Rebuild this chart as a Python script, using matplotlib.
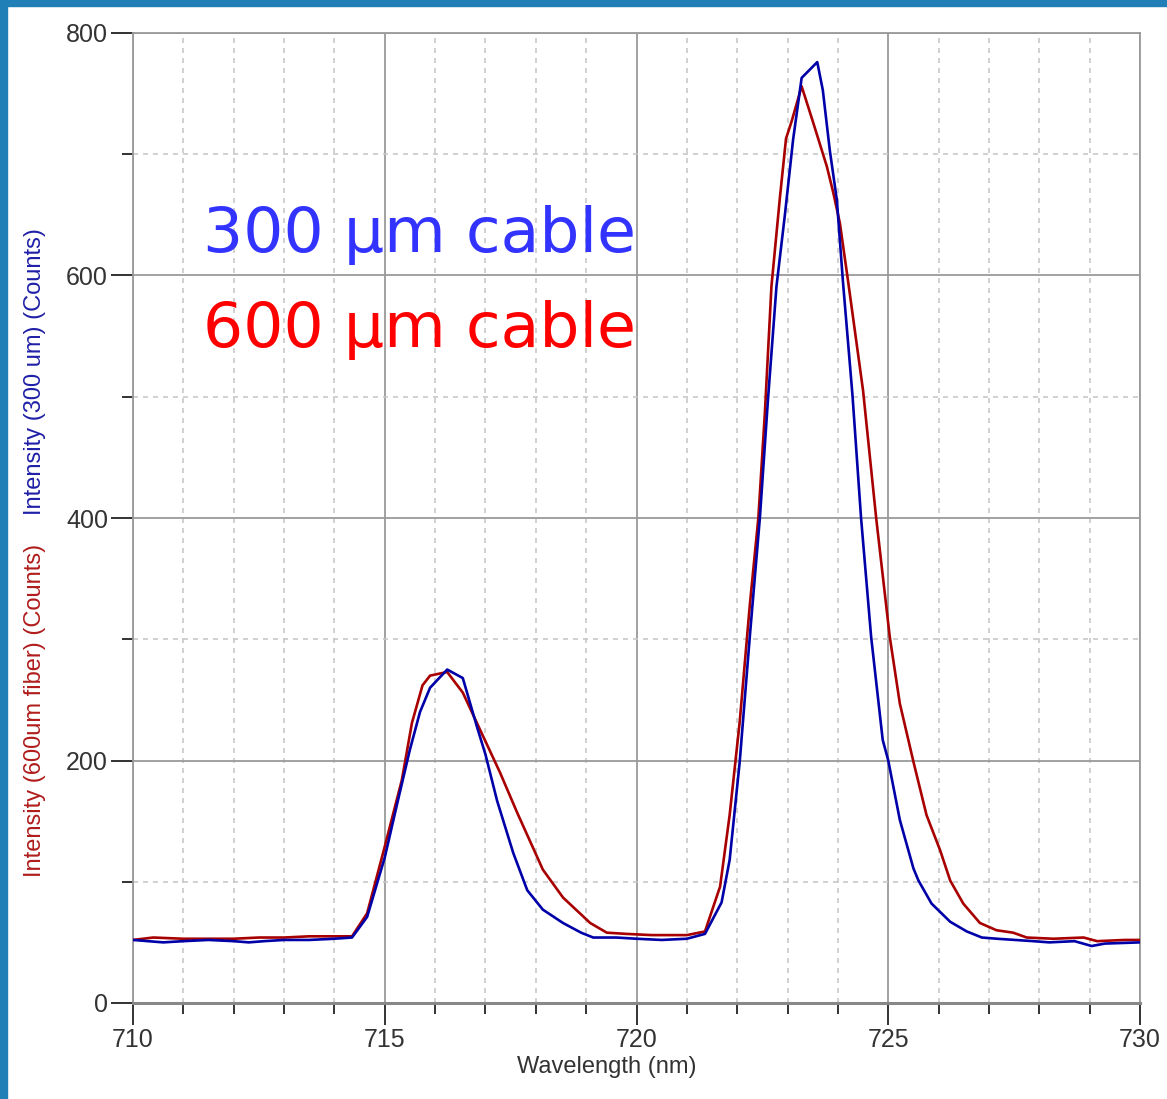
import matplotlib
matplotlib.use('Agg')
import matplotlib.pyplot as plt
from matplotlib.patches import Rectangle
from matplotlib.ticker import MultipleLocator

# spectrum: wavelength (nm) and counts
wl_300 = [710.0, 710.3, 710.6, 711.0, 711.5, 712.0, 712.3, 712.6, 713.0, 713.5,
          714.0, 714.35, 714.65, 715.0, 715.25, 715.5, 715.7, 715.9, 716.24, 716.55,
          716.83, 717.0, 717.23, 717.55, 717.83, 718.14, 718.54, 718.9, 719.14, 719.6,
          720.0, 720.5, 721.0, 721.36, 721.69, 721.85, 722.05, 722.25, 722.45, 722.61,
          722.78, 722.95, 723.11, 723.28, 723.59, 723.7, 723.84, 723.98, 724.1, 724.29,
          724.46, 724.66, 724.89, 725.0, 725.23, 725.5, 725.6, 725.86, 726.23, 726.56,
          726.86, 727.16, 727.88, 728.2, 728.7, 729.04, 729.3, 730.0]
cnt_300 = [52, 51, 50, 51, 52, 51, 50, 51, 52, 52,
           53, 54, 71, 120, 165, 209, 240, 260, 275, 268,
           228, 205, 167, 124, 93, 77, 66, 58, 54, 54,
           53, 52, 53, 57, 83, 118, 199, 302, 400, 497,
           591, 651, 712, 763, 776, 753, 703, 662, 595, 501,
           400, 302, 217, 200, 151, 111, 101, 82, 67, 59,
           54, 53, 51, 50, 51, 47, 49, 50]

wl_600 = [710.0, 710.4, 711.0, 711.5, 712.0, 712.5, 713.0, 713.5, 714.0, 714.35,
          714.65, 715.0, 715.34, 715.54, 715.75, 715.9, 716.24, 716.55, 716.83, 717.29,
          717.63, 718.14, 718.54, 719.08, 719.41, 719.8, 720.3, 721.0, 721.36, 721.66,
          721.85, 722.05, 722.25, 722.42, 722.55, 722.68, 722.85, 722.97, 723.08, 723.28,
          723.51, 723.78, 723.91, 724.04, 724.2, 724.5, 724.76, 725.03, 725.23, 725.5,
          725.76, 726.03, 726.23, 726.49, 726.82, 727.15, 727.48, 727.75, 728.28, 728.88,
          729.15, 729.7, 730.0]
cnt_600 = [52, 54, 53, 53, 53, 54, 54, 55, 55, 55,
           74, 129, 184, 231, 262, 270, 273, 256, 231, 190,
           157, 110, 87, 66, 58, 57, 56, 56, 59, 96,
           155, 232, 328, 400, 487, 591, 665, 713, 727, 756,
           726, 690, 668, 643, 596, 505, 400, 302, 247, 199,
           155, 126, 101, 82, 66, 60, 58, 54, 53, 54,
           51, 52, 52]

Line_300 = '#0000a8'
Line_600 = '#a80000'


def plotSpectra():
    fig = plt.figure(figsize=(11.67, 10.99), dpi=100)
    ax = fig.add_axes([133 / 1167, 1 - 1003 / 1099, (1140 - 133) / 1167, (1003 - 33) / 1099])

    # blue frame of the screenshot
    fig.patches.append(Rectangle((0, 1 - 6 / 1099), 1, 6 / 1099, transform=fig.transFigure,
                                 color='#1f7fb6', zorder=0))
    fig.patches.append(Rectangle((0, 0), 7 / 1167, 1, transform=fig.transFigure,
                                 color='#1f7fb6', zorder=0))

    ax.plot(wl_600, cnt_600, color=Line_600, lw=1.9, zorder=3)
    ax.plot(wl_300, cnt_300, color=Line_300, lw=1.9, zorder=4)

    ax.set_xlim(710, 730)
    ax.set_ylim(0, 800)
    ax.xaxis.set_major_locator(MultipleLocator(5))
    ax.xaxis.set_minor_locator(MultipleLocator(1))
    ax.yaxis.set_major_locator(MultipleLocator(200))
    ax.yaxis.set_minor_locator(MultipleLocator(100))

    ax.grid(which='major', color='#9a9a9a', lw=1.3, ls='-', zorder=1)
    ax.grid(which='minor', color='#c8c8c8', lw=1.2, ls=(0, (3, 3)), zorder=1)
    ax.set_axisbelow(True)

    for side in ['top', 'right', 'left']:
        ax.spines[side].set_color('#9a9a9a')
        ax.spines[side].set_linewidth(1.3)
    ax.spines['bottom'].set_color('#888888')
    ax.spines['bottom'].set_linewidth(2.2)

    ax.tick_params(which='major', direction='out', length=16, width=1.3, color='#222222',
                   labelsize=18, labelcolor='#333333', pad=2)
    ax.tick_params(which='minor', direction='out', length=8, width=1.3, color='#222222')
    for lab in ax.get_xticklabels() + ax.get_yticklabels():
        lab.set_fontfamily('Liberation Sans')

    ax.set_xlabel('Wavelength (nm)', fontsize=17, family='Liberation Sans', color='#333333',
                  labelpad=4)
    ax.xaxis.set_label_coords(0.47, -0.055)

    # two-coloured y axis label
    fig.text(35 / 1167, 1 - 710 / 1099, 'Intensity (600um fiber) (Counts)', rotation=90,
             ha='center', va='center', fontsize=17, family='Liberation Sans', color='#b01c1c')
    fig.text(35 / 1167, 1 - 372 / 1099, 'Intensity (300 um) (Counts)', rotation=90,
             ha='center', va='center', fontsize=17, family='Liberation Sans', color='#2020a8')

    ax.text(711.4, 619, '300 \u03bcm cable', color='#3333ff', fontsize=45.5,
            family='DejaVu Sans', ha='left', va='baseline', zorder=5)
    ax.text(711.4, 541, '600 \u03bcm cable', color='#ff0000', fontsize=45.5,
            family='DejaVu Sans', ha='left', va='baseline', zorder=5)

    fig.savefig('out.png', dpi=100, facecolor='white')


def main():
    plotSpectra()


if __name__ == '__main__':
    main()
